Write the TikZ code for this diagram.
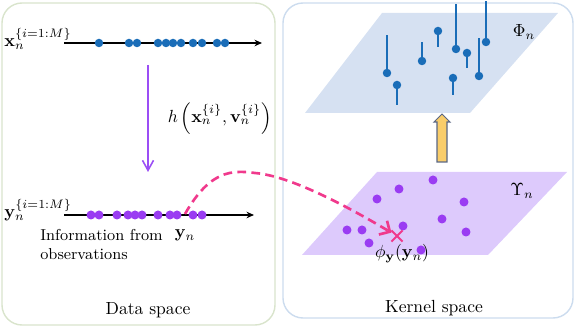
\documentclass[tikz,border=0pt]{standalone}
\usepackage{xcolor}
\usepackage{amsmath}
\usepackage{tikz}
\usetikzlibrary{shapes.geometric, shapes.misc, arrows.meta, positioning, calc}

\definecolor{dotblue}{HTML}{1A6DB8}
\definecolor{dotpurple}{HTML}{9A3CF2}
\definecolor{arrowpurple}{HTML}{9B4EF5}
\definecolor{linkpink}{HTML}{F0398C}
\definecolor{planeblue}{HTML}{D6E1F2}
\definecolor{planepurple}{HTML}{DDCAFC}
\definecolor{frameleft}{HTML}{D9E4CC}
\definecolor{frameright}{HTML}{CCDCEE}
\definecolor{arrowyellow}{HTML}{F9CD6A}
\definecolor{arrowedge}{HTML}{5A6784}

\begin{document}
\begin{tikzpicture}[
    x=0.02cm, y=-0.02cm,
    panel/.style={draw, line width=0.8pt, rounded corners=0.4cm},
    axisline/.style={black, line width=0.8pt, -{Stealth[length=1.5mm, width=1.3mm]}},
    bluedot/.style={circle, fill=dotblue, inner sep=0pt, minimum size=0.17cm},
    purpledot/.style={circle, fill=dotpurple, inner sep=0pt, minimum size=0.18cm},
    stem/.style={dotblue, line width=1.2pt},
    txt/.style={inner sep=0pt},
    maparrow/.style={arrowpurple, line width=0.9pt, -{Straight Barb[length=2mm, width=2.2mm]}},
    linkarrow/.style={linkpink, line width=1.5pt, dash pattern=on 5pt off 3pt, -{Straight Barb[length=1.6mm, width=3.2mm]}}
]
\useasboundingbox (0,0) rectangle (576,334);

% Frames
\draw[panel, frameleft] (2,3) rectangle (275,325);
\draw[panel, frameright] (283,3) rectangle (573,318);

% Data space: particles
\coordinate (xstart) at (64,43);
\coordinate (xend) at (262,43);
\draw[axisline] (xstart) -- (xend);
\foreach \px [count=\i] in {99,129,137,158,166,173,181,193,202,217,225}
    \node[bluedot] (xdot\i) at (\px,43) {};
\node[txt, anchor=base west] (xlabel) at (4,47) {$\mathbf{x}_n^{\{i=1:M\}}$};

% Data space: observations
\coordinate (ystart) at (64,215);
\coordinate (yend) at (254,215);
\draw[axisline] (ystart) -- (yend);
\foreach \px [count=\i] in {91,99,117,128,135,142,158,170,177,193,202}
    \node[purpledot] (ydot\i) at (\px,215) {};
\node[txt, anchor=base west] (ylabel) at (4,218) {$\mathbf{y}_n^{\{i=1:M\}}$};
\node[txt, anchor=north west, align=left, font=\small] (info) at (40,229) {Information from\\observations};
\node[txt, anchor=base] (ynlabel) at (185,238) {$\mathbf{y}_n$};
\coordinate (ynpt) at (185,214);

% Mapping h
\coordinate (hstart) at (148,65);
\coordinate (hend) at (148,172);
\draw[maparrow] (hstart) -- node[midway, right=0.38cm, inner sep=0pt, text=black] (hlabel)
    {$h\left(\mathbf{x}_n^{\{i\}},\mathbf{v}_n^{\{i\}}\right)$} (hend);

\node[txt, anchor=base] (dataspace) at (148,315) {Data space};

% Kernel space: planes
\fill[planeblue] (305,113) -- (470,113) -- (558,13) -- (382,13) -- cycle;
\fill[planepurple] (302,255) -- (488,255) -- (567,172) -- (377,172) -- cycle;

% Lifted particles
\foreach \px/\py/\pe [count=\i] in {387/73/35, 397/85/105, 422/61/42, 438/31/47, 456/49/4,
        467/53/68, 453/78/95, 479/76/38, 486/42/1} {
    \draw[stem] (\px,\py) -- (\px,\pe);
    \node[bluedot] (phidot\i) at (\px,\py) {};
}
\node[txt, anchor=base] (philabel) at (524,37) {$\Phi_n$};

% Embedded observations
\foreach \px/\py [count=\i] in {433/180, 399/189, 377/199, 464/202, 442/219, 403/226,
        347/230, 362/230, 466/232, 369/243, 421/250}
    \node[purpledot] (kdot\i) at (\px,\py) {};
\node[txt, anchor=base] (upslabel) at (522,196) {$\Upsilon_n$};
\node[cross out, draw=linkpink, line width=1.2pt, minimum size=0.18cm, inner sep=0pt] (phiy) at (397,236) {};
\node[txt, anchor=base] (phiylabel) at (402,258) {$\phi_{\mathbf{y}}(\mathbf{y}_n)$};

% Lift arrow
\coordinate (lift) at (442,162);
\draw[arrowedge, fill=arrowyellow, line width=0.6pt] (lift) ++(-5,0) -- ++(0,-40) -- ++(-3,0)
    -- ++(8,-8) -- ++(8,8) -- ++(-3,0) -- ++(0,40) -- cycle;

% Embedding link
\draw[linkarrow] (ynpt) .. controls (210,170) and (232,170) .. (255,173)
    .. controls (290,176) and (345,205) .. (phiy);

\node[txt, anchor=base] (kernelspace) at (434,313) {Kernel space};

\end{tikzpicture}
\end{document}
